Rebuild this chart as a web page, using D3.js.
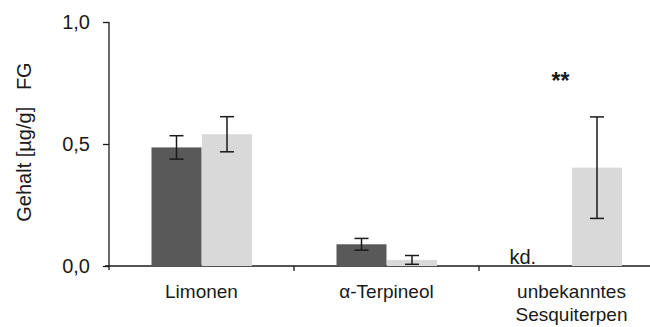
<!DOCTYPE html>
<html>
<head>
<meta charset="utf-8">
<script src="https://cdn.jsdelivr.net/npm/d3@7"></script>
<style>
  html, body { margin: 0; padding: 0; background: #fff; }
  svg { display: block; font-family: "Liberation Sans", Arial, sans-serif; }
</style>
</head>
<body>
<svg id="chart" width="650" height="327"></svg>
<script>
// Compound categories (multi-line labels split on "\n")
const categories = ["Limonen", "α-Terpineol", "unbekanntes\nSesquiterpen"];
// Mean content in µg/g FG for the two groups; null = not detected
const darkValues  = [0.486, 0.089, null];
const darkErrors  = [0.048, 0.024, null];
const lightValues = [0.540, 0.025, 0.403];
const lightErrors = [0.072, 0.018, 0.208];
const yTicks = [0, 0.5, 1.0];
const yTickLabels = ["0,0", "0,5", "1,0"];
const significance = ["", "", "**"];

const svg = d3.select("#chart");
const margin = { left: 109, top: 22, bottom: 61 };
const plotRight = 664;
const H = 327;

const x = d3.scaleBand().domain(categories).range([margin.left, plotRight]).padding(0);
const y = d3.scaleLinear().domain([0, 1]).range([H - margin.bottom, margin.top]);
const barW = 50;
const ink = "#1a1a1a";

// Y axis
const yAxis = svg.append("g")
  .attr("transform", `translate(${margin.left},0)`)
  .call(d3.axisLeft(y).tickValues(yTicks).tickFormat((d, i) => yTickLabels[i]).tickSize(6).tickPadding(13));
yAxis.select(".domain").remove();
yAxis.selectAll(".tick line").attr("stroke", ink).attr("stroke-width", 1.3);
yAxis.selectAll("text").attr("font-size", 20).attr("fill", ink).attr("font-family", "Liberation Sans, Arial, sans-serif");
svg.append("line")
  .attr("x1", margin.left).attr("x2", margin.left)
  .attr("y1", y(1)).attr("y2", y(0) + 4)
  .attr("stroke", ink).attr("stroke-width", 1.3);

// X axis baseline and category separators
svg.append("line")
  .attr("x1", margin.left - 4).attr("x2", plotRight)
  .attr("y1", y(0)).attr("y2", y(0))
  .attr("stroke", ink).attr("stroke-width", 1.3);
categories.slice(1).forEach(c => {
  svg.append("line")
    .attr("x1", x(c)).attr("x2", x(c))
    .attr("y1", y(0)).attr("y2", y(0) + 5)
    .attr("stroke", ink).attr("stroke-width", 1.3);
});

// Bars
const groups = categories.map((c, i) => ({
  c, i,
  dark: darkValues[i], darkErr: darkErrors[i],
  light: lightValues[i], lightErr: lightErrors[i]
}));
const cx = c => x(c) + x.bandwidth() / 2;

groups.forEach(g => {
  if (g.dark !== null) {
    svg.append("rect")
      .attr("x", cx(g.c) - barW).attr("width", barW)
      .attr("y", y(g.dark)).attr("height", y(0) - y(g.dark))
      .attr("fill", "#595959");
  }
  if (g.light !== null) {
    svg.append("rect")
      .attr("x", cx(g.c) + 0.5).attr("width", barW)
      .attr("y", y(g.light)).attr("height", y(0) - y(g.light))
      .attr("fill", "#d9d9d9");
  }
});

// Error bars
function errBar(xc, v, e) {
  const g = svg.append("g").attr("stroke", ink).attr("stroke-width", 1.5);
  g.append("line").attr("x1", xc).attr("x2", xc).attr("y1", y(v + e)).attr("y2", y(v - e));
  g.append("line").attr("x1", xc - 7).attr("x2", xc + 7).attr("y1", y(v + e)).attr("y2", y(v + e));
  g.append("line").attr("x1", xc - 7).attr("x2", xc + 7).attr("y1", y(v - e)).attr("y2", y(v - e));
}
groups.forEach(g => {
  if (g.dark !== null) errBar(cx(g.c) - barW / 2, g.dark, g.darkErr);
  if (g.light !== null) errBar(cx(g.c) + barW / 2 + 0.5, g.light, g.lightErr);
});

// "kd." marker for not-detected values
groups.forEach(g => {
  if (g.dark === null) {
    svg.append("text")
      .attr("x", cx(g.c) - 62).attr("y", y(0) - 2)
      .attr("text-anchor", "start")
      .attr("font-size", 20).attr("fill", ink)
      .text("kd.");
  }
});

// Significance stars
groups.forEach(g => {
  if (significance[g.i]) {
    svg.append("text")
      .attr("x", cx(g.c) - 11).attr("y", 89)
      .attr("text-anchor", "middle")
      .attr("font-size", 23).attr("font-weight", "bold").attr("fill", ink)
      .text(significance[g.i]);
  }
});

// Category labels
categories.forEach(c => {
  const t = svg.append("text")
    .attr("x", cx(c)).attr("y", 298)
    .attr("text-anchor", "middle")
    .attr("font-size", 19).attr("fill", ink);
  c.split("\n").forEach((line, k) => {
    t.append("tspan").attr("x", cx(c)).attr("dy", k === 0 ? 0 : 23).text(line);
  });
});

// Y axis title
svg.append("text")
  .attr("transform", "translate(31,142) rotate(-90)")
  .attr("text-anchor", "middle")
  .attr("font-size", 20).attr("fill", ink)
  .style("white-space", "pre")
  .text("Gehalt [µg/g]   FG");
</script>
</body>
</html>
